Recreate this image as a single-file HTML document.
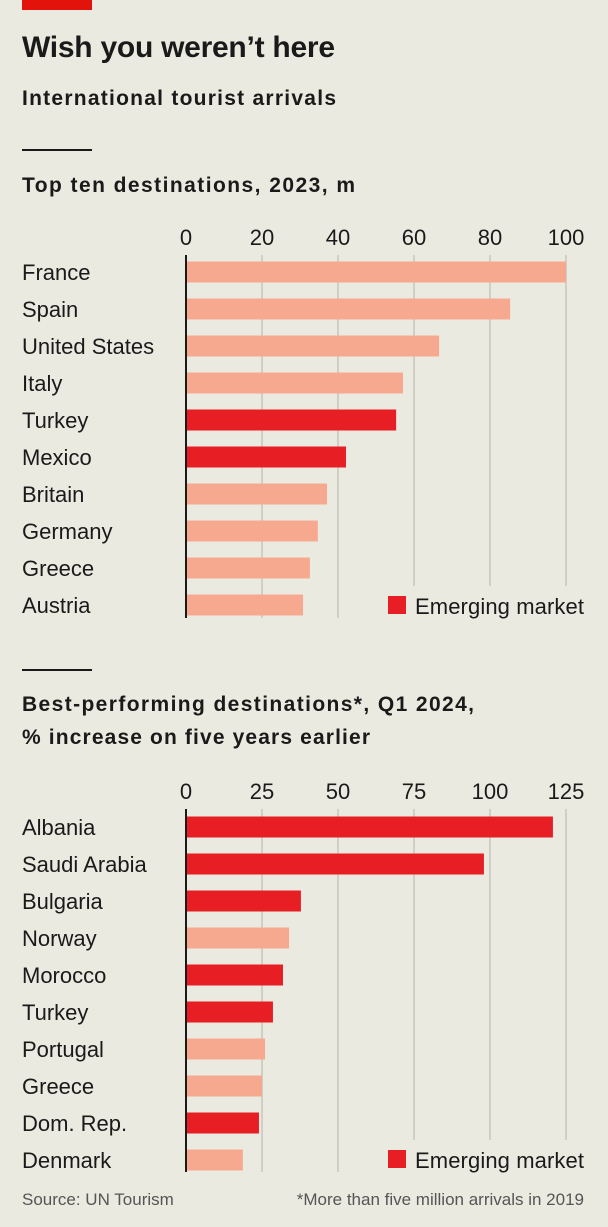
<!DOCTYPE html>
<html><head><meta charset="utf-8"><style>
body{margin:0;background:#ebeae0;}
svg{display:block;font-family:"Liberation Sans",sans-serif;}
</style></head><body>
<svg id="c" width="608" height="1227" xmlns="http://www.w3.org/2000/svg">
<rect x="0" y="0" width="608" height="1227" fill="#ebeae0"/>
<rect x="22" y="0" width="70" height="10" fill="#e3120b"/>
<text x="22" y="57" font-size="30" font-weight="bold" fill="#1a1a1a" textLength="313">Wish you weren’t here</text>
<text x="22" y="105" font-size="21" fill="#1a1a1a" font-weight="bold" textLength="314">International tourist arrivals</text>
<rect x="22" y="149" width="70" height="2" fill="#1a1a1a"/>
<text x="22" y="192" font-size="21" font-weight="bold" fill="#1a1a1a" textLength="333">Top ten destinations, 2023, m</text>
<rect x="22" y="669" width="70" height="2" fill="#1a1a1a"/>
<text x="22" y="711" font-size="21" font-weight="bold" fill="#1a1a1a" textLength="452">Best-performing destinations*, Q1 2024,</text>
<text x="22" y="744" font-size="21" font-weight="bold" fill="#1a1a1a" textLength="348">% increase on five years earlier</text>
<text x="22" y="1205" font-size="17" fill="#555">Source: UN Tourism</text>
<text x="584" y="1205" font-size="17" fill="#555" text-anchor="end">*More than five million arrivals in 2019</text>
</svg>
<script>
const c1Cats=["France","Spain","United States","Italy","Turkey","Mexico","Britain","Germany","Greece","Austria"];
const c1Vals=[100,85.3,66.6,57.1,55.3,42.1,37.1,34.7,32.6,30.8];
const c1Em=[0,0,0,0,1,1,0,0,0,0];
const c1Ticks=[0,20,40,60,80,100];
const c2Cats=["Albania","Saudi Arabia","Bulgaria","Norway","Morocco","Turkey","Portugal","Greece","Dom. Rep.","Denmark"];
const c2Vals=[120.7,98,37.8,33.9,31.9,28.6,26,25,24,18.7];
const c2Em=[1,1,1,0,1,1,0,0,1,0];
const c2Ticks=[0,25,50,75,100,125];
const svg=document.getElementById('c');
const NS='http://www.w3.org/2000/svg';
function mk(t,a){const e=document.createElementNS(NS,t);for(const k in a)e.setAttribute(k,a[k]);svg.appendChild(e);return e;}
function chart(p,cats,vals,em,ticks,max,tickY,row0,legY){
  const x=v=>186+v/max*380;
  const y=i=>row0+i*37;
  ticks.forEach((t,i)=>{
    const gx=x(t);
    const end=(gx>380)?legY-20:legY+12;
    if(i>0){const g=mk('line',{x1:gx,x2:gx,y1:tickY+10,y2:end,stroke:'#c8c6bd','stroke-width':1.5});
    
    }
    const tl=mk('text',{x:gx,y:tickY,'font-size':22,fill:'#1a1a1a','text-anchor':'middle'});tl.textContent=t;
    
    
  });
  cats.forEach((c,i)=>{
    const b=mk('rect',{x:186,y:y(i)-10.5,width:x(vals[i])-186,height:21,fill:em[i]?'#e81e25':'#f7a98f'});
    
    
    const l=mk('text',{x:22,y:y(i)+8,'font-size':22,fill:'#1a1a1a'});l.textContent=c;
    
    
  });
  const ax=mk('line',{x1:186,x2:186,y1:tickY+10,y2:legY+12,stroke:'#1a1a1a','stroke-width':2});
  
  
  const ls=mk('rect',{x:388,y:legY-10,width:18,height:18,fill:'#e81e25'});
  
  
  const lt=mk('text',{x:415,y:legY+8,'font-size':22,fill:'#1a1a1a',textLength:169});lt.textContent='Emerging market';
  
  
}
chart('chart1',c1Cats,c1Vals,c1Em,c1Ticks,100,245,272,606);
chart('chart2',c2Cats,c2Vals,c2Em,c2Ticks,125,799,827,1160);
</script>
</body></html>
